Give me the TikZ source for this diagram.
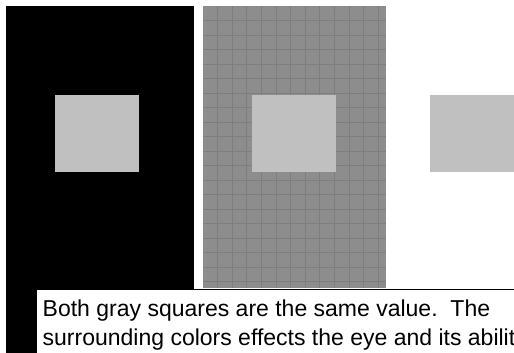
\documentclass[tikz,border=0pt]{standalone}
\usepackage{fontspec}
\setmainfont{Liberation Sans}
\definecolor{sq}{RGB}{192,192,192}
\definecolor{midgray}{RGB}{141,141,141}
\definecolor{gridline}{RGB}{126,126,126}
\tikzset{sqbox/.style={fill=sq,draw=none},
  caption/.style={anchor=base west,inner sep=0pt,font=\fontsize{23pt}{26pt}\selectfont}}
\begin{document}
\begin{tikzpicture}[x=1pt,y=-1pt]
\useasboundingbox (0,0) rectangle (514,353);
\clip (0,0) rectangle (514,353);
\fill[white] (0,0) rectangle (514,353);
% black panel
\fill[black] (6,6) rectangle (194,353);
% gray textured panel
\fill[midgray] (203,6) rectangle (386,288);
\foreach \i in {1,...,12} \draw[gridline,line width=0.7pt] ({203+14.6*\i},6) -- ({203+14.6*\i},288);
\foreach \j in {1,...,19} \draw[gridline,line width=0.7pt] (203,{6+14.5*\j}) -- (386,{6+14.5*\j});
% gray squares
\node[sqbox,minimum width=84pt,minimum height=77pt,inner sep=0pt,anchor=north west] (s1) at (55,95) {};
\node[sqbox,minimum width=84pt,minimum height=77pt,inner sep=0pt,anchor=north west] (s2) at (252,95) {};
\node[sqbox,minimum width=84pt,minimum height=77pt,inner sep=0pt,anchor=north west] (s3) at (430,95) {};
% text box
\fill[white,draw=black,line width=1pt] (36.5,289.5) rectangle (560,380);
\node[caption] (t1) at (42.5,316.7) {Both gray squares are the same value.\ \ The};
\node[caption] (t2) at (42.5,345) {surrounding colors effects the eye and its ability};
\end{tikzpicture}
\end{document}
